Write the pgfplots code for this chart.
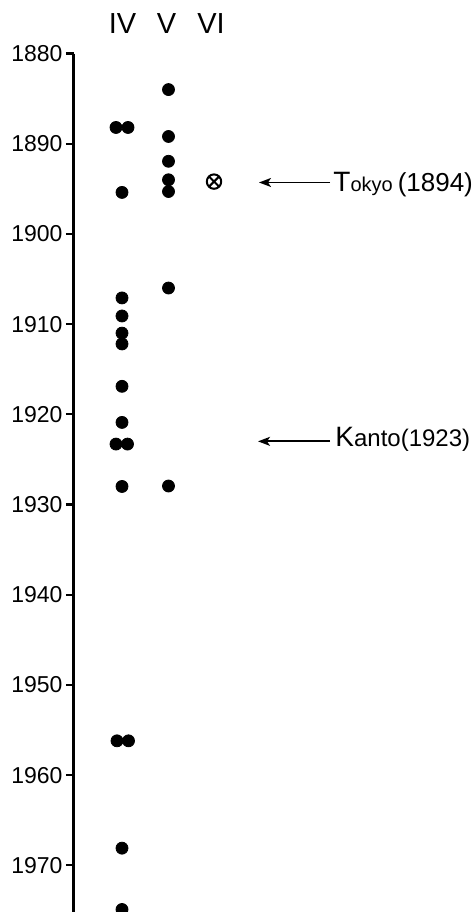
\documentclass[border=0pt]{standalone}
\usepackage{pgfplots}
\pgfplotsset{compat=1.18}
\usepackage{fontspec}
\setmainfont{Liberation Sans}
\usetikzlibrary{plotmarks,arrows.meta}
\begin{document}
\begin{tikzpicture}[x=1pt,y=1pt]
\begin{axis}[
  at={(0,0)}, anchor=south west,
  width=201pt, height=429.25pt, scale only axis,
  xmin=74, xmax=476, ymin=1880, ymax=1975.18, y dir=reverse,
  axis x line=none, axis y line*=left,
  axis line style={line width=1.5pt, -},
  ytick={1880,1890,...,1970},
  tick align=outside, major tick length=4pt,
  every tick/.append style={line width=1.1pt, black},
  yticklabel style={font=\fontsize{11.5}{13}\selectfont, xshift=1.8pt},
  /pgf/number format/1000 sep={}, /pgf/number format/assume math mode=true,
  clip=false,
]
% column IV, single events
\addplot[only marks, mark=*, mark size=3pt, black] coordinates {
(122,1895.4) (122,1907.1) (122,1909.1) (122,1911.0) (122,1912.2)
(122,1916.9) (122,1920.9) (122,1928.0) (122,1968.1) (122,1974.9)};
% column IV, double events
\addplot[only marks, mark=*, mark size=3pt, black] coordinates {
(116,1888.2) (128,1888.2) (116,1923.3) (127.5,1923.3) (117,1956.2) (128.5,1956.2)};
% column V
\addplot[only marks, mark=*, mark size=3pt, black] coordinates {
(168.5,1884.0) (168.5,1889.2) (168.5,1891.95) (168.5,1894.0) (168.5,1895.3)
(168.5,1906.0) (168.5,1927.95)};
% column VI
\addplot[only marks, mark=otimes, mark size=3.6pt, black, mark options={line width=1pt}] coordinates {
(214,1894.2)};
% column labels
\node[anchor=base, font=\fontsize{14.5}{14}\selectfont] at (axis cs:122.5,1877.73) {IV};
\node[anchor=base, font=\fontsize{14.5}{14}\selectfont] at (axis cs:166.5,1877.73) {V};
\node[anchor=base, font=\fontsize{14.5}{14}\selectfont] at (axis cs:211,1877.73) {VI};
% annotations
\draw[line width=0.9pt, -{Stealth[length=6pt,width=4.5pt,inset=1.5pt]}] (axis cs:330,1894.3) -- (axis cs:259,1894.3);
\draw[line width=0.9pt, -{Stealth[length=6pt,width=4.5pt,inset=1.5pt]}] (axis cs:330,1923.0) -- (axis cs:258,1923.0);
\node[anchor=base west, inner sep=0pt] at (axis cs:333,1895.3)
  {{\fontsize{14}{14}\selectfont T}{\fontsize{10}{10}\selectfont okyo}\hspace{2.5pt}{\fontsize{13}{14}\selectfont (1894)}};
\node[anchor=base west, inner sep=0pt] at (axis cs:335,1923.6)
  {{\fontsize{14}{14}\selectfont K}{\fontsize{12}{14}\selectfont anto(1923)}};
\end{axis}
\pgfresetboundingbox
\useasboundingbox (-37pt,0pt) rectangle (201pt,456pt);
\end{tikzpicture}
\end{document}
